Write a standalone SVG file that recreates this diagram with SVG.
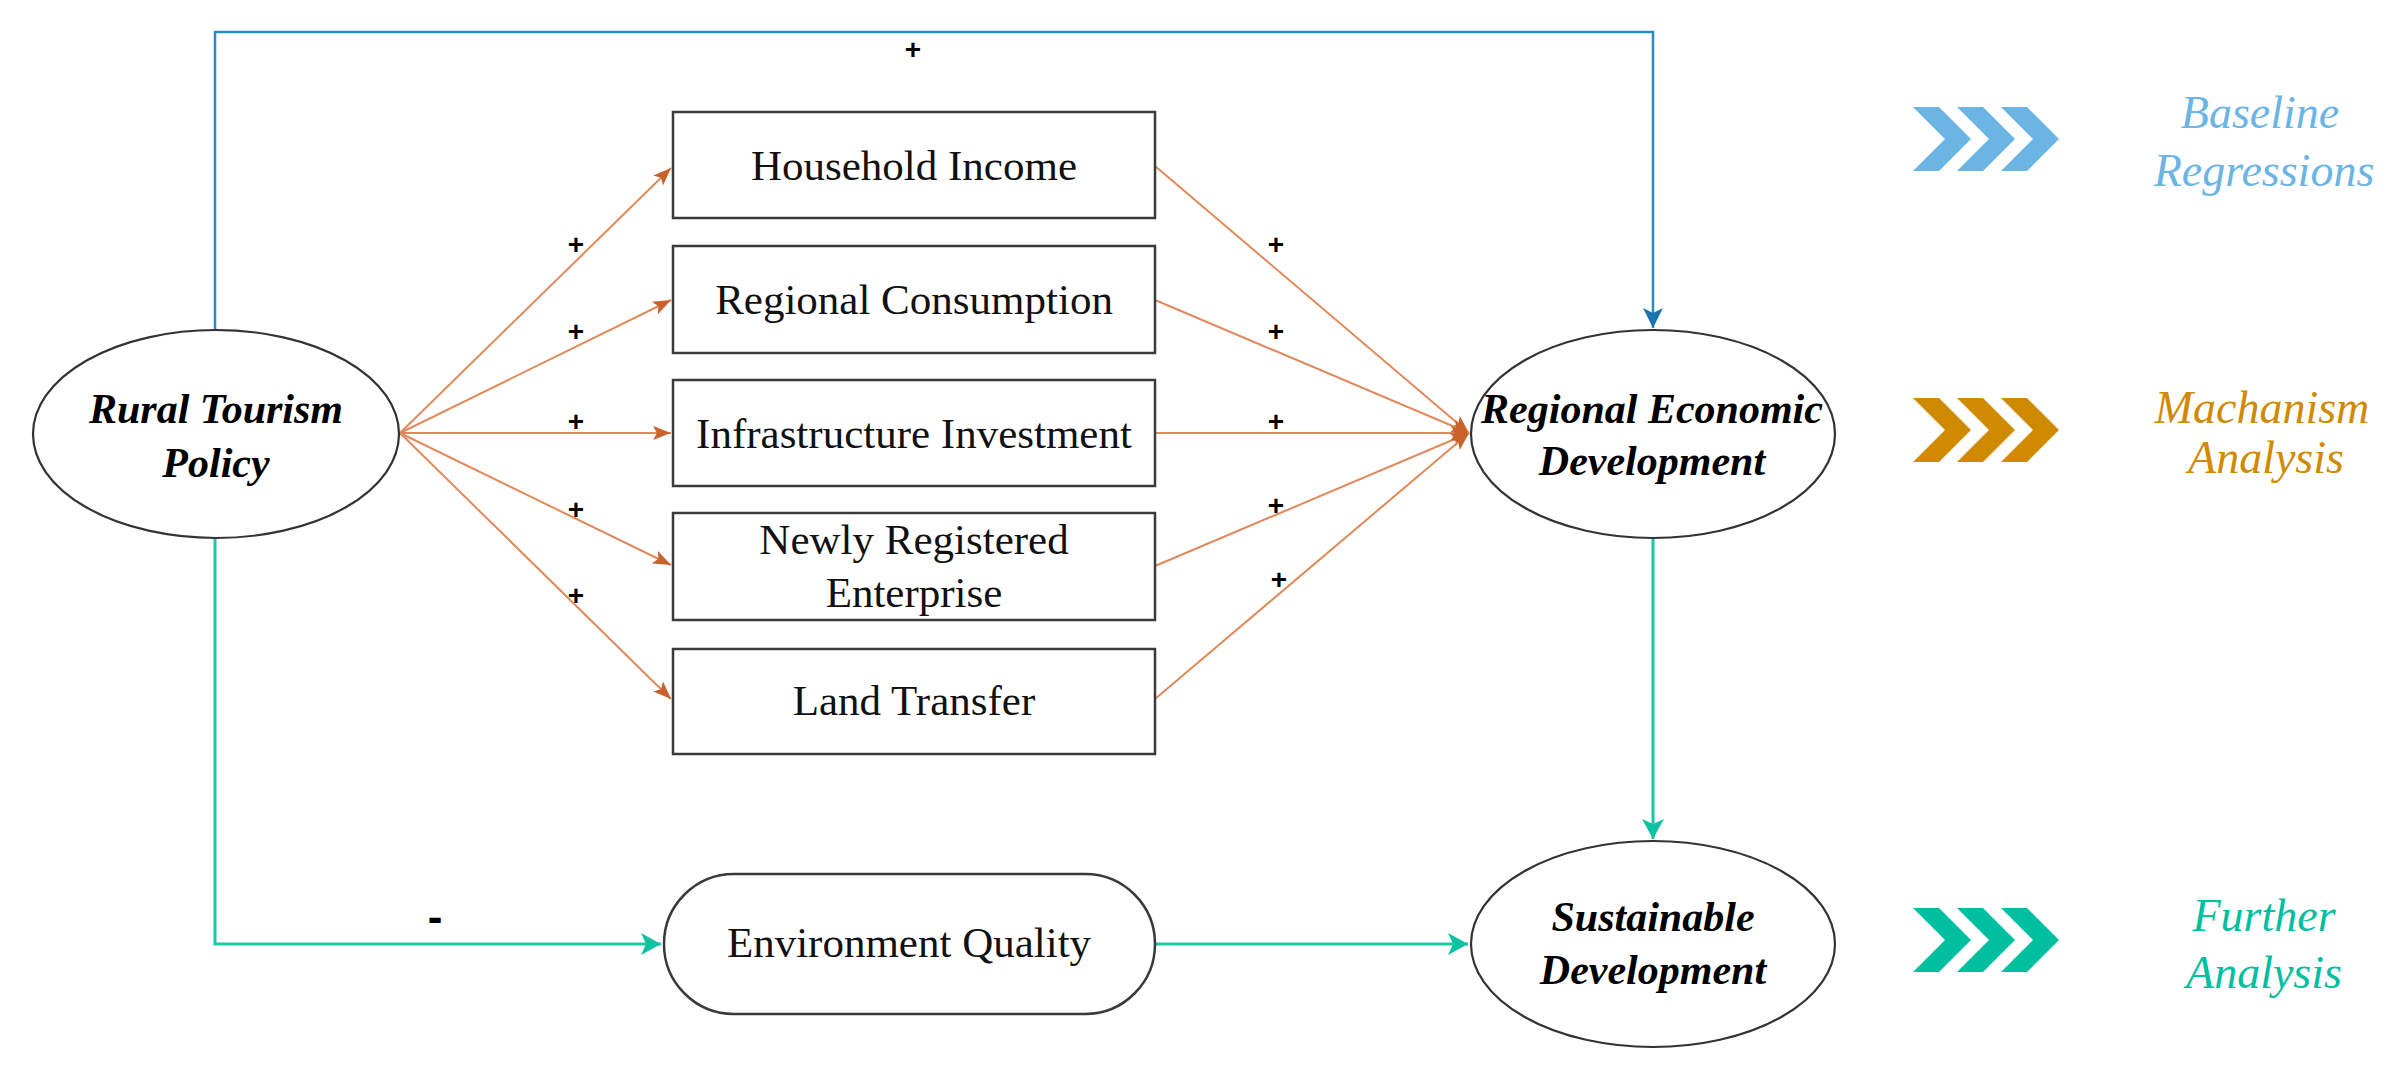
<svg xmlns="http://www.w3.org/2000/svg" width="2404" height="1080" viewBox="0 0 2404 1080">
<style>
.node{fill:#fff;stroke:#3a3a3a;stroke-width:2.5}
.ell{fill:#fff;stroke:#333;stroke-width:2.2}
.bt{font-family:"Liberation Serif",serif;font-size:43px;fill:#111;text-anchor:middle}
.bi{font-family:"Liberation Serif",serif;font-size:42px;font-weight:bold;font-style:italic;fill:#000;text-anchor:middle}
.lab{font-family:"Liberation Serif",serif;font-size:46px;font-style:italic;text-anchor:middle}
.sg{font-family:"Liberation Sans",sans-serif;font-size:28px;font-weight:bold;fill:#000;text-anchor:middle}
.or{fill:none;stroke:#E08A5C;stroke-width:2}
.bl{fill:none;stroke:#2A8BC6;stroke-width:2.5}
.tl{fill:none;stroke:#1DC8A8;stroke-width:3}
</style>
<defs>
<marker id="ao" markerUnits="userSpaceOnUse" markerWidth="20" markerHeight="16" refX="18" refY="7" orient="auto"><path d="M0,0 L18,7 L0,14 L4,7 z" fill="#C9622A"/></marker>
<marker id="ab" markerUnits="userSpaceOnUse" markerWidth="24" markerHeight="24" refX="20" refY="10" orient="auto"><path d="M0,0 L20,10 L0,20 L5,10 z" fill="#1A72AE"/></marker>
<marker id="at" markerUnits="userSpaceOnUse" markerWidth="24" markerHeight="26" refX="20" refY="11" orient="auto"><path d="M0,0 L20,11 L0,22 L5,11 z" fill="#10C2A2"/></marker>
<path id="chev" d="M0,0 L26,0 L58,32 L26,64 L0,64 L32,32 z"/>
</defs>

<g id="connectors">
<path class="bl" d="M215,330 V32 H1653 V328" marker-end="url(#ab)"/>
<path class="tl" d="M215,537 V944 H661" marker-end="url(#at)"/>
<path class="tl" d="M1155,944 H1468" marker-end="url(#at)"/>
<path class="tl" d="M1653,537 V839" marker-end="url(#at)"/>
<line class="or" x1="400" y1="433" x2="671" y2="168" marker-end="url(#ao)"/>
<line class="or" x1="400" y1="433" x2="671" y2="300" marker-end="url(#ao)"/>
<line class="or" x1="400" y1="433" x2="671" y2="433" marker-end="url(#ao)"/>
<line class="or" x1="400" y1="433" x2="671" y2="565" marker-end="url(#ao)"/>
<line class="or" x1="400" y1="433" x2="671" y2="699" marker-end="url(#ao)"/>
<line class="or" x1="1155" y1="166" x2="1469" y2="433" marker-end="url(#ao)"/>
<line class="or" x1="1155" y1="300" x2="1469" y2="433" marker-end="url(#ao)"/>
<line class="or" x1="1155" y1="433" x2="1469" y2="433" marker-end="url(#ao)"/>
<line class="or" x1="1155" y1="566" x2="1469" y2="433" marker-end="url(#ao)"/>
<line class="or" x1="1155" y1="699" x2="1469" y2="433" marker-end="url(#ao)"/>
<text class="sg" x="913" y="59">+</text>
<text class="sg" x="576" y="254">+</text>
<text class="sg" x="576" y="341">+</text>
<text class="sg" x="576" y="431">+</text>
<text class="sg" x="576" y="519">+</text>
<text class="sg" x="576" y="605">+</text>
<text class="sg" x="1276" y="254">+</text>
<text class="sg" x="1276" y="341">+</text>
<text class="sg" x="1276" y="431">+</text>
<text class="sg" x="1276" y="515">+</text>
<text class="sg" x="1279" y="589">+</text>
<text class="sg" x="435" y="932" style="font-size:44px">-</text>
</g>

<g id="rural-tourism-policy">
<ellipse class="ell" cx="216" cy="434" rx="183" ry="104"/>
<text class="bi" x="216" y="423">Rural Tourism</text>
<text class="bi" x="216" y="477">Policy</text>
</g>

<g id="household-income">
<rect class="node" x="673" y="112" width="482" height="106"/>
<text class="bt" x="914" y="180">Household Income</text>
</g>
<g id="regional-consumption">
<rect class="node" x="673" y="246" width="482" height="107"/>
<text class="bt" x="914" y="314">Regional Consumption</text>
</g>
<g id="infrastructure-investment">
<rect class="node" x="673" y="380" width="482" height="106"/>
<text class="bt" x="914" y="448">Infrastructure Investment</text>
</g>
<g id="newly-registered-enterprise">
<rect class="node" x="673" y="513" width="482" height="107"/>
<text class="bt" x="914" y="554">Newly Registered</text>
<text class="bt" x="914" y="607">Enterprise</text>
</g>
<g id="land-transfer">
<rect class="node" x="673" y="649" width="482" height="105"/>
<text class="bt" x="914" y="715">Land Transfer</text>
</g>
<g id="environment-quality">
<rect class="node" x="664" y="874" width="491" height="140" rx="70" ry="70"/>
<text class="bt" x="909" y="957">Environment Quality</text>
</g>

<g id="regional-economic-development">
<ellipse class="ell" cx="1653" cy="434" rx="182" ry="104"/>
<text class="bi" x="1652" y="423">Regional Economic</text>
<text class="bi" x="1652" y="475">Development</text>
</g>
<g id="sustainable-development">
<ellipse class="ell" cx="1653" cy="944" rx="182" ry="103"/>
<text class="bi" x="1653" y="931">Sustainable</text>
<text class="bi" x="1653" y="984">Development</text>
</g>

<g id="legend-baseline">
<g fill="#6BB5E5">
<use href="#chev" x="1913" y="107"/>
<use href="#chev" x="1957" y="107"/>
<use href="#chev" x="2001" y="107"/>
</g>
<text class="lab" x="2260" y="128" fill="#6BB5E5">Baseline</text>
<text class="lab" x="2264" y="186" fill="#6BB5E5">Regressions</text>
</g>
<g id="legend-mechanism">
<g fill="#D08A00">
<use href="#chev" x="1913" y="398"/>
<use href="#chev" x="1957" y="398"/>
<use href="#chev" x="2001" y="398"/>
</g>
<text class="lab" x="2262" y="423" fill="#D08A00">Machanism</text>
<text class="lab" x="2266" y="473" fill="#D08A00">Analysis</text>
</g>
<g id="legend-further">
<g fill="#00BF9F">
<use href="#chev" x="1913" y="908"/>
<use href="#chev" x="1957" y="908"/>
<use href="#chev" x="2001" y="908"/>
</g>
<text class="lab" x="2264" y="931" fill="#00BF9F">Further</text>
<text class="lab" x="2264" y="988" fill="#00BF9F">Analysis</text>
</g>
</svg>
